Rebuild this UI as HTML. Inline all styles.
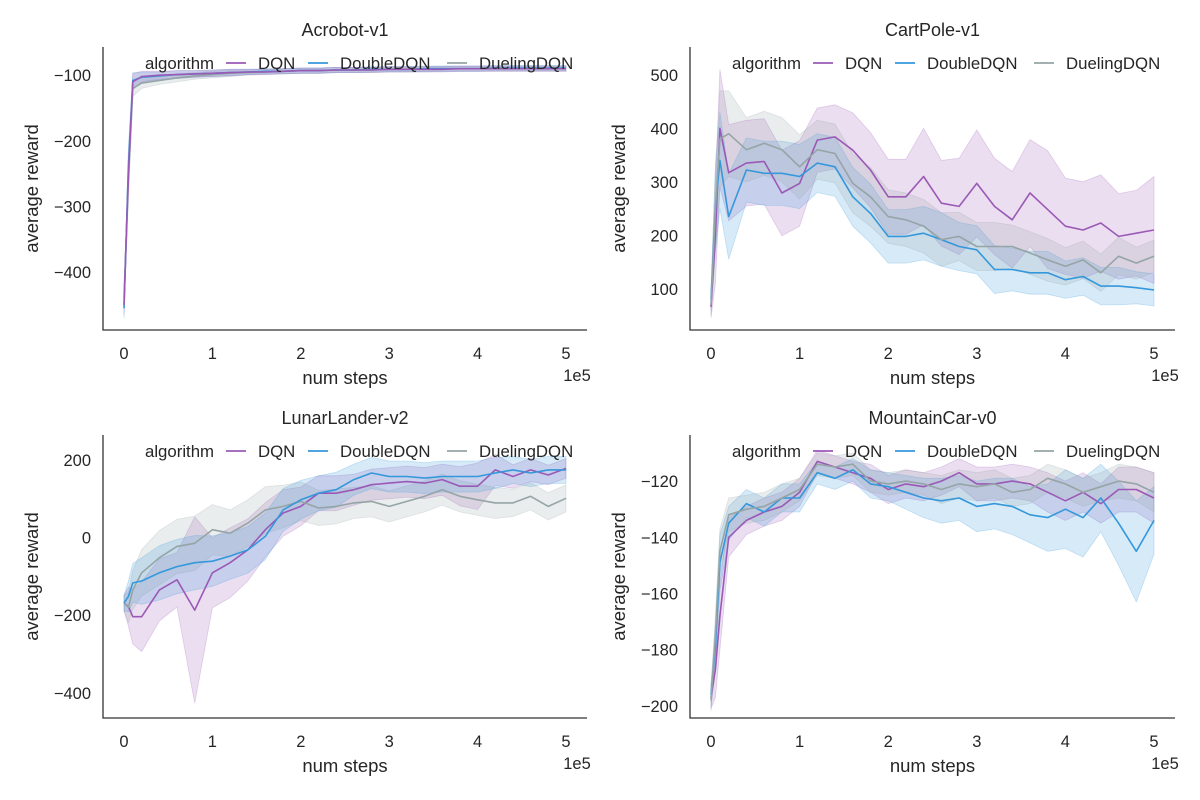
<!DOCTYPE html>
<html><head><meta charset="utf-8"><style>
html,body{margin:0;padding:0;background:#fff;}
svg{display:block;font-family:"Liberation Sans","DejaVu Sans",sans-serif;}
</style></head><body>
<svg id="fig" width="1200" height="800" viewBox="0 0 1200 800"></svg>
<script>
const steps=[0,0.05,0.1,0.2,0.4,0.6,0.8,1.0,1.2,1.4,1.6,1.8,2.0,2.2,2.4,2.6,2.8,3.0,3.2,3.4,3.6,3.8,4.0,4.2,4.4,4.6,4.8,5.0];
const xTicks=[0,1,2,3,4,5];
// Acrobot
const acroDQN=[-450,-250,-110,-102,-100,-99,-98,-97,-96,-95,-95,-94,-93,-93,-92,-92,-92,-91,-91,-91,-91,-90,-90,-90,-90,-90,-90,-90];
const acroDouble=[-455,-240,-108,-103,-101,-99,-98,-97,-96,-95,-94,-94,-93,-93,-92,-92,-91,-91,-91,-90,-90,-90,-90,-89,-89,-89,-89,-89];
const acroDueling=[-440,-260,-120,-112,-108,-104,-101,-99,-97,-96,-95,-94,-93,-93,-92,-92,-92,-91,-91,-91,-90,-90,-90,-90,-90,-90,-90,-90];
const acroSpread=[15,30,12,8,6,6,5,5,5,4,4,4,4,4,4,4,4,4,4,4,4,4,4,4,4,4,4,4];
const acroTicks=[-100,-200,-300,-400];
// CartPole
const cartDQN=[66,200,400,317,335,338,279,297,378,384,359,322,272,272,310,260,254,297,254,229,279,248,217,210,223,198,204,210];
const cartDouble=[80,250,340,235,322,316,316,310,335,328,272,241,198,198,204,192,179,173,136,136,130,130,117,123,105,105,102,98];
const cartDueling=[70,250,380,390,360,372,360,328,360,353,297,272,235,229,217,192,198,179,179,179,167,154,142,154,130,161,148,161];
const cartSpreadDQN=[20,90,110,90,80,80,80,80,60,60,70,70,70,70,90,80,90,100,90,90,100,110,90,90,90,80,80,100];
const cartSpreadOther=[20,80,90,80,60,60,60,60,55,55,55,55,50,50,50,50,45,45,45,40,40,40,35,35,35,35,30,30];
const cartTicks=[100,200,300,400,500];
// LunarLander
const lunarDQN=[-169,-178,-204,-204,-135,-109,-187,-91,-65,-32,20,63,80,114,114,123,136,140,144,140,149,132,132,174,157,174,161,178];
const lunarDouble=[-169,-152,-117,-112,-91,-75,-65,-61,-48,-32,3,71,97,114,123,149,166,157,157,153,157,157,157,166,174,166,174,174];
const lunarDueling=[-169,-180,-135,-91,-52,-23,-15,20,11,37,71,80,93,76,80,89,93,80,93,106,123,106,97,89,89,106,80,101];
const lunarSpreadDQN=[20,50,70,90,80,70,240,90,90,80,70,60,50,45,45,40,40,40,40,40,40,50,60,40,30,30,25,25];
const lunarSpreadOther=[20,40,50,60,70,70,70,65,60,60,60,55,50,45,45,40,40,40,40,40,40,40,40,40,35,35,35,35];
const lunarTicks=[200,0,-200,-400];
// MountainCar
const mcDQN=[-197,-187,-168,-140,-134,-131,-129,-124,-113,-115,-117,-119,-123,-121,-122,-120,-117,-121,-121,-120,-121,-124,-127,-124,-128,-123,-123,-126];
const mcDouble=[-196,-179,-149,-135,-128,-131,-126,-126,-117,-119,-116,-121,-122,-124,-126,-127,-126,-129,-128,-129,-132,-133,-130,-133,-126,-135,-145,-134];
const mcDueling=[-198,-175,-145,-132,-130,-129,-126,-123,-114,-115,-114,-120,-121,-120,-121,-123,-121,-122,-121,-124,-123,-119,-121,-124,-122,-120,-121,-124];
const mcSpreadDQN=[4,10,12,7,5,5,5,5,4,4,4,5,5,5,5,5,5,6,6,6,6,7,7,7,7,8,8,9];
const mcSpreadDouble=[4,8,10,6,5,5,5,5,4,4,4,5,5,6,7,8,8,9,9,10,10,12,14,14,12,15,18,12];
const mcSpreadDueling=[4,8,8,6,5,5,5,4,4,4,4,4,4,4,4,5,5,5,5,5,5,5,5,5,5,6,6,7];
const mcTicks=[-120,-140,-160,-180,-200];

const COL={DQN:'#9b59b6',DoubleDQN:'#3498db',DuelingDQN:'#95a5a6'};
const NS='http://www.w3.org/2000/svg';
const svg=document.getElementById('fig');
function mk(tag,attrs,parent){const e=document.createElementNS(NS,tag);for(const k in attrs)e.setAttribute(k,attrs[k]);(parent||svg).appendChild(e);return e;}

const panels=[
 {key:'acrobot',title:'Acrobot-v1',L:103,R:587,T:47,B:330,y0:-57,y1:-488,ticks:acroTicks,
  series:[['DuelingDQN',acroDueling,acroSpread],['DoubleDQN',acroDouble,acroSpread],['DQN',acroDQN,acroSpread]]},
 {key:'cartpole',title:'CartPole-v1',L:690,R:1175,T:47,B:330,y0:552,y1:23,ticks:cartTicks,
  series:[['DQN',cartDQN,cartSpreadDQN],['DoubleDQN',cartDouble,cartSpreadOther],['DuelingDQN',cartDueling,cartSpreadOther]]},
 {key:'lunarlander',title:'LunarLander-v2',L:103,R:587,T:435,B:718,y0:264,y1:-465,ticks:lunarTicks,
  series:[['DQN',lunarDQN,lunarSpreadDQN],['DuelingDQN',lunarDueling,lunarSpreadOther],['DoubleDQN',lunarDouble,lunarSpreadOther]]},
 {key:'mountaincar',title:'MountainCar-v0',L:690,R:1175,T:435,B:718,y0:-103.6,y1:-204.3,ticks:mcTicks,
  series:[['DQN',mcDQN,mcSpreadDQN],['DoubleDQN',mcDouble,mcSpreadDouble],['DuelingDQN',mcDueling,mcSpreadDueling]]}
];

panels.forEach(p=>{
 const g=mk('g',{});
 
 
 const xs=v=>p.L+21+v*(p.R-p.L-42)/5;
 const ys=v=>p.T+(p.y0-v)/(p.y0-p.y1)*(p.B-p.T);
 p.series.forEach(([name,vals,spr])=>{
  let up=steps.map((s,i)=>xs(s).toFixed(1)+','+ys(vals[i]+spr[i]).toFixed(1));
  let lo=steps.map((s,i)=>xs(s).toFixed(1)+','+ys(vals[i]-spr[i]).toFixed(1)).reverse();
  const b=mk('polygon',{points:up.concat(lo).join(' '),fill:COL[name],'fill-opacity':0.2,stroke:COL[name],'stroke-opacity':0.25,'stroke-width':0.8},g);
  
  
 });
 p.series.forEach(([name,vals])=>{
  const l=mk('polyline',{points:steps.map((s,i)=>xs(s).toFixed(1)+','+ys(vals[i]).toFixed(1)).join(' '),fill:'none',stroke:COL[name],'stroke-width':1.6,'stroke-linejoin':'round'},g);
  
  
 });
 const ax=mk('path',{d:`M${p.L},${p.T} L${p.L},${p.B} L${p.R},${p.B}`,fill:'none',stroke:'#333','stroke-width':1.3},g);
 
 
 xTicks.forEach(t=>{
  const tx=mk('text',{x:xs(t),y:p.B+29,'text-anchor':'middle','font-size':16.5,fill:'#262626'},g);
  tx.textContent=t;
  
  
 });
 p.ticks.forEach(t=>{
  const ty=mk('text',{x:p.L-12,y:ys(t)+6,'text-anchor':'end','font-size':16.5,fill:'#262626'},g);
  ty.textContent=String(t).replace('-','\u2212');
  
  
 });
 const ex=mk('text',{x:p.R-10,y:p.B+51,'text-anchor':'middle','font-size':16.5,fill:'#262626'},g);
 ex.textContent='1e5';
 
 
 const xl=mk('text',{x:(p.L+p.R)/2,y:p.B+54,'text-anchor':'middle','font-size':18.5,fill:'#262626'},g);
 xl.textContent='num steps';
 
 
 const yl=mk('text',{x:0,y:0,'text-anchor':'middle','font-size':18.5,fill:'#262626',transform:`translate(${p.L-65},${(p.T+p.B)/2}) rotate(-90)`},g);
 yl.textContent='average reward';
 
 
 const ti=mk('text',{x:(p.L+p.R)/2,y:p.T-11,'text-anchor':'middle','font-size':18,fill:'#262626'},g);
 ti.textContent=p.title;
 
 
 const lg=mk('g',{},g);
 
 
 const ly=p.T+22;
 const lt=mk('text',{x:p.L+42,y:ly,'font-size':16.8,fill:'#262626'},lg);
 lt.textContent='algorithm';
 
 
 [['DQN',123,155],['DoubleDQN',205,237],['DuelingDQN',344,376]].forEach(([n,lx,tx])=>{
  const ln=mk('line',{x1:p.L+lx,x2:p.L+lx+20,y1:ly-6,y2:ly-6,stroke:COL[n],'stroke-width':1.8},lg);
  
  
  const te=mk('text',{x:p.L+tx,y:ly,'font-size':16.8,fill:'#262626'},lg);
  te.textContent=n;
  
  
 });
});
</script>
</body></html>
